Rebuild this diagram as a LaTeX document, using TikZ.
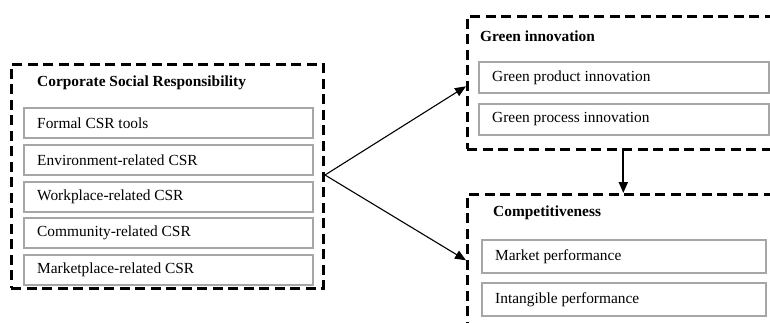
\documentclass[tikz,border=0pt]{standalone}
\usepackage{fontspec}
\setmainfont{Liberation Serif}
\usetikzlibrary{arrows.meta}
\tikzset{
  frame/.style={draw=black, line width=2.6pt, dash pattern=on 10pt off 5.5pt,
    inner sep=0pt, anchor=north west},
  item/.style={draw=black!35, line width=2pt, anchor=north west, inner sep=0pt,
    text depth=0pt, align=left, font=\fontsize{15.4}{18}\selectfont},
  heading/.style={anchor=west, inner sep=0pt, font=\fontsize{15.4}{18}\selectfont\bfseries},
  link/.style={line width=1.1pt, -{Triangle[length=11pt,width=9pt]}},
  flow/.style={line width=2pt, -{Triangle[length=11pt,width=9pt]}}
}
\newcommand{\itembox}[5]{%
  \node[item, minimum width=#3pt, minimum height=#4pt] (#1) at #2 {};
  \node[anchor=west, inner sep=0pt, font=\fontsize{15.4}{18}\selectfont]
    (#1t) at ([xshift=14pt]#1.west) {#5};}
\begin{document}
\begin{tikzpicture}[x=1pt, y=-1pt]
\useasboundingbox (0,0) rectangle (770,322);
\clip (0,0) rectangle (770,322);

% CSR block
\node[frame, minimum width=312pt, minimum height=224pt] (csr) at (10,63) {};
\node[heading] (csrh) at (37,83) {Corporate Social Responsibility};
\itembox{c1}{(23,107)}{289}{30}{Formal CSR tools}
\itembox{c2}{(23,144)}{289}{30}{Environment-related CSR}
\itembox{c3}{(23,181)}{289}{30}{Workplace-related CSR}
\itembox{c4}{(23,217)}{289}{30}{Community-related CSR}
\itembox{c5}{(23,254)}{289}{30}{Marketplace-related CSR}

% Green innovation block
\node[frame, minimum width=312pt, minimum height=133pt] (grn) at (466,15) {};
\node[heading] (grnh) at (480,36) {Green innovation};
\itembox{g1}{(478,61)}{290}{31}{Green product innovation}
\itembox{g2}{(478,103)}{290}{31}{Green process innovation}

% Competitiveness block
\node[frame, minimum width=312pt, minimum height=132pt] (cmp) at (466,193) {};
\node[heading] (cmph) at (493,213) {Competitiveness};
\itembox{k1}{(481,239)}{284}{33}{Market performance}
\itembox{k2}{(481,282)}{284}{33}{Intangible performance}

% Connectors
\coordinate (fork) at (325,175);
\draw[link] (fork) -- ([yshift=-3.5pt]grn.west);
\draw[link] (fork) -- (cmp.west);
\draw[flow] (grn.south) -- (cmp.north);
\end{tikzpicture}
\end{document}
